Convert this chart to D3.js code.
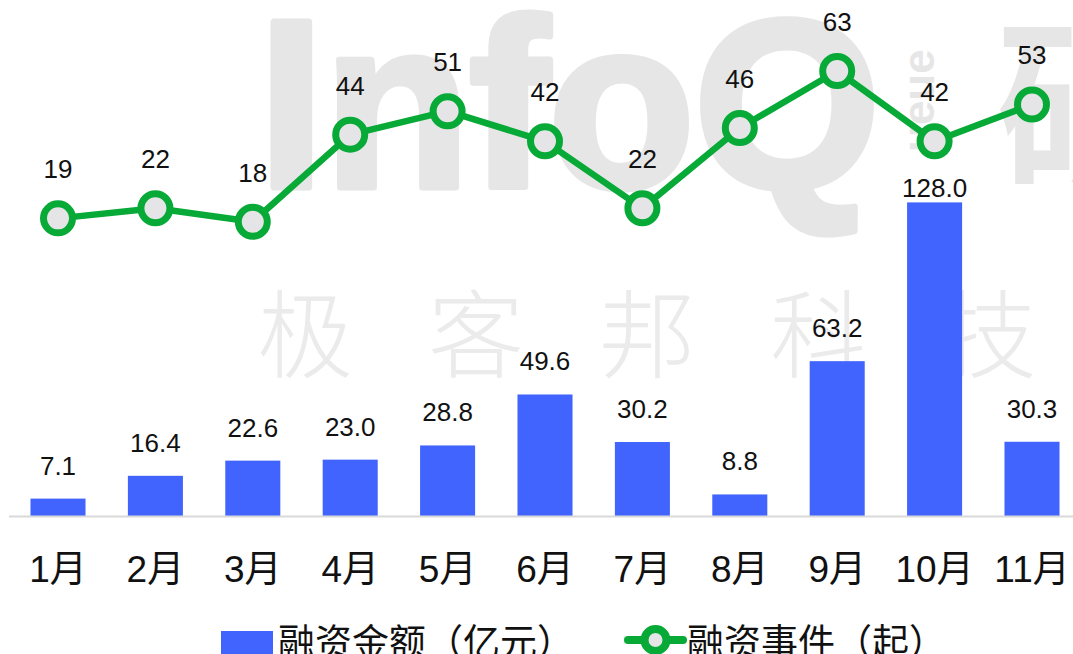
<!DOCTYPE html>
<html>
<head>
<meta charset="utf-8">
<script src="https://cdn.jsdelivr.net/npm/d3@7/dist/d3.min.js"></script>
<style>
  html, body { margin: 0; padding: 0; background: #fff; }
  svg { display: block; }
</style>
</head>
<body>
<svg id="chart" width="1073" height="654"></svg>
<script>
const months = ['1月','2月','3月','4月','5月','6月','7月','8月','9月','10月','11月'];
const amounts = [7.1, 16.4, 22.6, 23.0, 28.8, 49.6, 30.2, 8.8, 63.2, 128.0, 30.3];
const events = [19, 22, 18, 44, 51, 42, 22, 46, 63, 42, 53];
const legendLabels = ['融资金额（亿元）', '融资事件（起）'];
const watermarkLogo = 'InfoQ';
const watermarkSub = 'ueue';
const watermarkCn = ['极', '客', '邦', '科', '技'];
const watermarkRight = '研究院';

const W = 1073, H = 654;
const BLUE = '#4164fe';
const GREEN = '#07a937';
const LATIN = '"Liberation Sans", Arial, "Noto Sans CJK SC", sans-serif';

const svg = d3.select('#chart');

// ---- watermark (background) ----
const wm = svg.append('g').attr('class', 'watermark');
wm.append('text')
  .attr('x', 258).attr('y', 187)
  .attr('font-family', '"Liberation Sans", Arial, sans-serif')
  .attr('font-weight', 'bold')
  .attr('font-size', 240)
  .attr('letter-spacing', -1)
  .attr('fill', '#e6e6e6')
  .attr('stroke', '#e6e6e6')
  .attr('stroke-width', 7)
  .attr('stroke-linejoin', 'round')
  .text(watermarkLogo);
wm.append('text')
  .attr('transform', 'translate(934,152) rotate(-90)')
  .attr('font-family', '"Liberation Sans", Arial, sans-serif')
  .attr('font-weight', 'bold')
  .attr('font-size', 44)
  .attr('fill', '#e6e6e6')
  .text(watermarkSub);
wm.append('text')
  .attr('x', 996).attr('y', 176)
  .attr('font-family', '"Noto Sans CJK SC", sans-serif')
  .attr('font-weight', 'bold')
  .attr('font-size', 185)
  .attr('fill', '#e6e6e6')
  .text(watermarkRight);
const cnX = d3.scalePoint().domain(watermarkCn).range([305, 989]);
wm.selectAll('text.cn').data(watermarkCn).join('text')
  .attr('class', 'cn')
  .attr('x', d => cnX(d)).attr('y', 370)
  .attr('text-anchor', 'middle')
  .attr('font-family', '"Noto Sans CJK SC", sans-serif')
  .attr('font-weight', 300)
  .attr('font-size', 96)
  .attr('fill', '#ebebeb')
  .text(d => d);

// ---- scales ----
const x = d3.scaleBand().domain(months)
  .range([9.3, 1080.7]).paddingInner(0.435).paddingOuter(0.2175);
const cx = m => x(m) + x.bandwidth() / 2;
const baseY = 516;
const yBar = d3.scaleLinear().domain([0, 130]).range([baseY, baseY - 130 * 2.45]);
const yLine = d3.scaleLinear().domain([0, 63]).range([282, 71]);

// ---- bars ----
svg.append('g').selectAll('rect').data(amounts).join('rect')
  .attr('x', (d, i) => x(months[i]))
  .attr('y', d => yBar(d))
  .attr('width', x.bandwidth())
  .attr('height', d => baseY - yBar(d))
  .attr('fill', BLUE);

const barLabelMinY = 197;
svg.append('g').selectAll('text').data(amounts).join('text')
  .attr('x', (d, i) => cx(months[i]))
  .attr('y', d => Math.max(yBar(d) - 24, barLabelMinY))
  .attr('text-anchor', 'middle')
  .attr('font-family', LATIN)
  .attr('font-size', 26)
  .attr('fill', '#111')
  .text(d => d.toFixed(1));

// ---- axis ----
svg.append('line')
  .attr('x1', 9).attr('x2', W)
  .attr('y1', baseY + 0.5).attr('y2', baseY + 0.5)
  .attr('stroke', '#d9d9d9').attr('stroke-width', 2);

const xAxis = svg.append('g')
  .attr('transform', `translate(0,${baseY})`)
  .call(d3.axisBottom(x).tickSize(0).tickPadding(40));
xAxis.select('.domain').remove();
xAxis.selectAll('text')
  .attr('font-family', LATIN)
  .attr('font-size', 37)
  .attr('fill', '#111');

// ---- line ----
const line = d3.line()
  .x((d, i) => cx(months[i]))
  .y(d => yLine(d));
svg.append('path')
  .datum(events)
  .attr('d', line)
  .attr('fill', 'none')
  .attr('stroke', GREEN)
  .attr('stroke-width', 6.5)
  .attr('stroke-linejoin', 'round');

svg.append('g').selectAll('circle').data(events).join('circle')
  .attr('cx', (d, i) => cx(months[i]))
  .attr('cy', d => yLine(d))
  .attr('r', 14.5)
  .attr('fill', '#e5e4e6')
  .attr('stroke', GREEN)
  .attr('stroke-width', 7);

svg.append('g').selectAll('text').data(events).join('text')
  .attr('x', (d, i) => cx(months[i]))
  .attr('y', d => yLine(d) - 40)
  .attr('text-anchor', 'middle')
  .attr('font-family', LATIN)
  .attr('font-size', 26)
  .attr('fill', '#111')
  .text(d => d);

// ---- legend ----
const lg = svg.append('g');
lg.append('rect')
  .attr('x', 221).attr('y', 631).attr('width', 52).attr('height', 24)
  .attr('fill', BLUE);
lg.append('text')
  .attr('x', 278).attr('y', 656)
  .attr('font-family', '"Noto Sans CJK SC", sans-serif')
  .attr('font-size', 37)
  .attr('fill', '#111')
  .text(legendLabels[0]);
lg.append('line')
  .attr('x1', 628).attr('x2', 683).attr('y1', 640).attr('y2', 640)
  .attr('stroke', GREEN).attr('stroke-width', 8).attr('stroke-linecap', 'round');
lg.append('circle')
  .attr('cx', 655.5).attr('cy', 640).attr('r', 11)
  .attr('fill', '#e5e4e6').attr('stroke', GREEN).attr('stroke-width', 8);
lg.append('text')
  .attr('x', 687).attr('y', 656)
  .attr('font-family', '"Noto Sans CJK SC", sans-serif')
  .attr('font-size', 37)
  .attr('fill', '#111')
  .text(legendLabels[1]);
</script>
</body>
</html>
